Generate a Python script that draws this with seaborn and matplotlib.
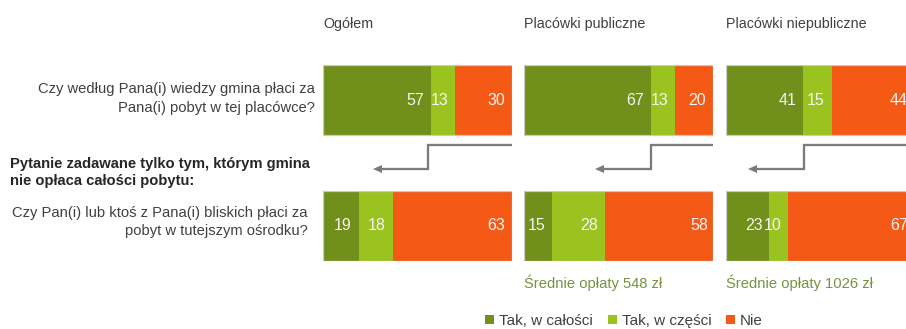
import numpy as np
import pandas as pd
import matplotlib
matplotlib.use("Agg")
import matplotlib.pyplot as plt
from matplotlib.lines import Line2D
from matplotlib.patches import Polygon, Patch
import seaborn as sns

sns.set_theme(style="white")
plt.rcParams["font.family"] = ["Liberation Sans", "DejaVu Sans"]

# ---- data -------------------------------------------------------------
groups = ["Ogółem", "Placówki publiczne", "Placówki niepubliczne"]
questions = [
    "Czy według Pana(i) wiedzy gmina płaci za\nPana(i) pobyt w tej placówce?",
    "Czy Pan(i) lub ktoś z Pana(i) bliskich płaci za\npobyt w tutejszym ośrodku?",
]
series = ["Tak, w całości", "Tak, w części", "Nie"]

# rows: groups, columns: [question 1, question 2]
tak_calosc = [[57, 19], [67, 15], [41, 23]]
tak_czesc = [[13, 18], [13, 28], [15, 10]]
nie = [[30, 63], [20, 58], [44, 67]]
avg_fee = [None, 548, 1026]

colors = ["#718f1b", "#9bc31f", "#f45a16"]
text_gray = "#404040"
arrow_gray = "#7b7b7b"
fee_green = "#77933c"

W, H = 906, 329
fig = plt.figure(figsize=(W / 100, H / 100), dpi=100)


def fx(px):
    return px / W


def fy(py):
    return 1 - py / H


panel_left = [323, 524, 726]
panel_w = 189
bar_top, bar_bot = 65, 261

for gi, grp in enumerate(groups):
    ax = fig.add_axes([fx(panel_left[gi]), fy(bar_bot), panel_w / W,
                       (bar_bot - bar_top) / H])
    parts = [np.array(tak_calosc[gi]), np.array(tak_czesc[gi]), np.array(nie[gi])]
    left = np.zeros(2)
    for si, vals in enumerate(parts):
        sns.barplot(x=vals, y=questions, orient="h", color=colors[si],
                    width=0.556, linewidth=0, left=left, ax=ax,
                    saturation=1)
        for qi in range(2):
            ax.text(left[qi] + vals[qi] - 3.7, qi, f"{vals[qi]}",
                    ha="right", va="center", color="#f4f4f4", fontsize=11.5)
        left = left + vals
    # thin outline around the whole bar
    sns.barplot(x=np.minimum(left, 100), y=questions, orient="h",
                color="#c9c9c9", fill=False, width=0.556, linewidth=0.9, ax=ax)
    ax.set_xlim(0, 100)
    ax.set_ylim(1.278, -0.278)
    ax.axis("off")

    fig.text(fx(panel_left[gi]), fy(24), grp, ha="left", va="center",
             fontsize=10.3, color=text_gray)
    if avg_fee[gi] is not None:
        fig.text(fx(panel_left[gi]), fy(283), f"Średnie opłaty {avg_fee[gi]} zł",
                 ha="left", va="center", fontsize=10.6, color=fee_green)

# question labels on the left
fig.text(fx(315), fy(98.5), questions[0], ha="right", va="center",
         fontsize=10.6, color=text_gray, linespacing=1.5, multialignment="right")
fig.text(fx(10), fy(172.5),
         "Pytanie zadawane tylko tym, którym gmina\nnie opłaca całości pobytu:",
         ha="left", va="center", fontsize=10.6, fontweight="bold",
         color="#262626", linespacing=1.3)
fig.text(fx(308), fy(222), questions[1], ha="right", va="center",
         fontsize=10.6, color=text_gray, linespacing=1.45, multialignment="right")

# elbow arrows leading from the first question to the follow-up one
arrows = [(512, 428, 373), (713, 651, 595), (915, 804, 748)]
y_hi, y_lo = 145, 169
for x0, xm, xe in arrows:
    fig.add_artist(Line2D([fx(x0), fx(xm), fx(xm), fx(xe + 6)],
                          [fy(y_hi), fy(y_hi), fy(y_lo), fy(y_lo)],
                          transform=fig.transFigure, color=arrow_gray,
                          lw=1.65, solid_joinstyle="miter",
                          solid_capstyle="butt"))
    fig.add_artist(Polygon([[fx(xe), fy(y_lo)], [fx(xe + 9), fy(y_lo - 4)],
                            [fx(xe + 9), fy(y_lo + 4)]], closed=True,
                           transform=fig.transFigure, facecolor=arrow_gray,
                           edgecolor="none"))

handles = [Patch(facecolor=c, edgecolor="none") for c in colors]
fig.legend(handles, series, loc="center", bbox_to_anchor=(fx(624), fy(321)),
           ncol=3, frameon=False, fontsize=11, handlelength=0.6,
           handleheight=0.6, handletextpad=0.3, columnspacing=0.98,
           labelcolor=text_gray, borderpad=0)

fig.savefig("out.png", dpi=100)
